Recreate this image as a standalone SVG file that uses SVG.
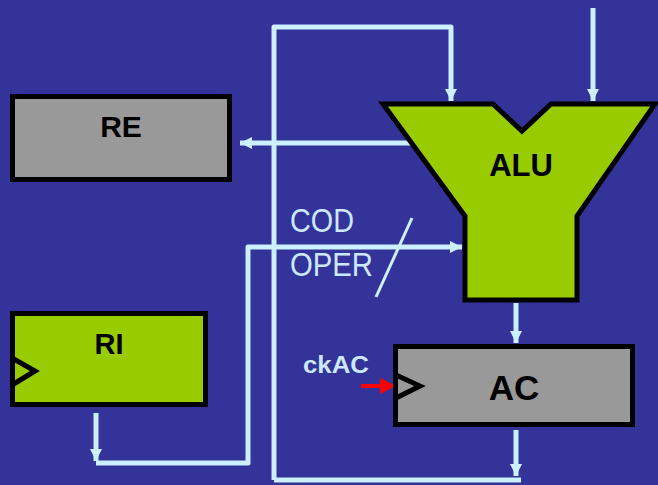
<svg xmlns="http://www.w3.org/2000/svg" width="658" height="485" viewBox="0 0 658 485">
<defs>
<marker id="ah" markerUnits="userSpaceOnUse" markerWidth="14" markerHeight="14" viewBox="0 0 14 14" refX="13" refY="7" orient="auto">
<path d="M1,1 L13,7 L1,13 Z" fill="#CCF0FF"/>
</marker>
<style>
.w{fill:none;stroke:#CCF0FF;stroke-width:5;stroke-linejoin:round}
.box{stroke:#000;stroke-width:5}
.lbl{font-family:"Liberation Sans",Arial,sans-serif;font-weight:bold;fill:#000;text-anchor:middle}
.lt{font-family:"Liberation Sans",Arial,sans-serif;fill:#CCE8FF}
</style>
</defs>
<rect width="658" height="485" fill="#333399"/>
<g id="connectors">
<path class="w" d="M274,480 L274,27 L451,27 L451,101" marker-end="url(#ah)"/>
<path class="w" d="M593,8 L593,101" marker-end="url(#ah)"/>
<path class="w" d="M414,143 L240,143" marker-end="url(#ah)"/>
<path class="w" d="M96,413 L96,461" marker-end="url(#ah)"/>
<path class="w" d="M96,463 L248,463 L248,247 L462,247" marker-end="url(#ah)"/>
<path class="w" d="M516,303 L516,343" marker-end="url(#ah)"/>
<path class="w" d="M516,430 L516,476" marker-end="url(#ah)"/>
<path class="w" d="M274,480 L521,480"/>
<line x1="412" y1="218" x2="376" y2="297" stroke="#CCF0FF" stroke-width="3"/>
<path d="M361,386 L385,386" stroke="#FF0000" stroke-width="4" fill="none"/>
<path d="M380,378 L396,386 L380,394 Z" fill="#FF0000"/>
</g>
<g id="ALU">
<polygon class="box" fill="#99CC00" points="383,104 493,104 522,131 551,104 655,104 577,216 577,300 465,300 465,216"/>
<text class="lbl" x="521" y="176" font-size="31">ALU</text>
</g>
<g id="RE">
<rect class="box" x="12.5" y="96.5" width="217" height="83" fill="#999999"/>
<text class="lbl" x="121" y="137" font-size="30">RE</text>
</g>
<g id="RI">
<rect class="box" x="12.5" y="313.5" width="193" height="91" fill="#99CC00"/>
<path d="M12,358 L35,371 L12,385" fill="none" stroke="#000" stroke-width="5"/>
<text class="lbl" x="109" y="354" font-size="29">RI</text>
</g>
<g id="AC">
<rect class="box" x="395.5" y="346.5" width="237" height="78" fill="#999999"/>
<path d="M396,375 L420,386 L396,398" fill="none" stroke="#000" stroke-width="5"/>
<text class="lbl" x="514" y="400" font-size="35">AC</text>
</g>
<g id="labels">
<text class="lt" x="303" y="373" font-size="23" font-weight="bold" textLength="66" lengthAdjust="spacingAndGlyphs">ckAC</text>
<text class="lt" x="290" y="232" font-size="33" textLength="64" lengthAdjust="spacingAndGlyphs">COD</text>
<text class="lt" x="290" y="276" font-size="33" textLength="83" lengthAdjust="spacingAndGlyphs">OPER</text>
</g>
</svg>
